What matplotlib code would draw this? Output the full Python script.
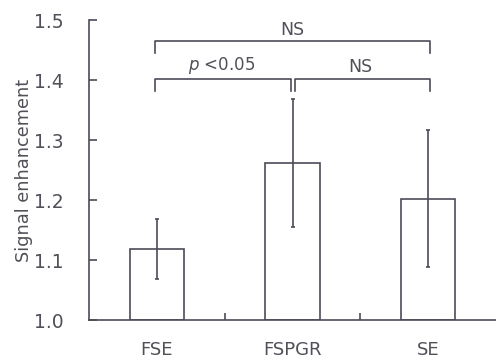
import matplotlib
matplotlib.use("Agg")
import matplotlib.pyplot as plt

categories = ["FSE", "FSPGR", "SE"]
means = [1.118, 1.262, 1.202]
errors = [0.050, 0.107, 0.114]

# significance annotations: (left index, right index, level, label)
brackets = [(0, 2, 1.465, "NS"), (0, 1, 1.402, "p<0.05"), (1, 2, 1.402, "NS")]

dark = "#4b4b57"
txt = "#505058"

fig = plt.figure(figsize=(4.96, 3.59), dpi=100)
ax = fig.add_axes([89/496, 1-320/359, 1-89/496, 300/359])

x = list(range(len(categories)))
ax.bar(x, [m - 1.0 for m in means], bottom=1.0, width=0.4, facecolor="white",
       edgecolor=dark, linewidth=1.2, zorder=2)
ax.errorbar(x, means, yerr=errors, fmt="none", ecolor=dark, elinewidth=1.2,
            capsize=1.5, capthick=1.2, zorder=3)

ax.set_xlim(-0.5, 2.5)
ax.set_ylim(1.0, 1.5)
ax.set_yticks([1.0, 1.1, 1.2, 1.3, 1.4, 1.5])
ax.set_yticklabels(["1.0", "1.1", "1.2", "1.3", "1.4", "1.5"])
ax.set_xticks(x)
ax.set_xticklabels(categories)
ax.set_xticks([0.5, 1.5], minor=True)
ax.tick_params(axis="x", which="major", length=0, pad=15, labelsize=13, colors=txt)
ax.tick_params(axis="x", which="minor", direction="in", length=5, width=1.2, color=dark)
ax.tick_params(axis="y", direction="in", length=6, width=1.2, pad=18, labelsize=13.5,
               colors=txt, color=dark)
for s in ["top", "right"]:
    ax.spines[s].set_visible(False)
for s in ["left", "bottom"]:
    ax.spines[s].set_color(dark)
    ax.spines[s].set_linewidth(1.2)

ax.set_ylabel("Signal enhancement", fontsize=12.8, color=txt, labelpad=1)

drop = 0.02
for (i, j, lvl, lab) in brackets:
    xi = i - 0.01
    xj = j + 0.01
    if (i, j) == (0, 1):
        xj = j - 0.01
    if (i, j) == (1, 2):
        xi = i + 0.02
    ax.plot([xi, xi, xj, xj], [lvl - drop, lvl, lvl, lvl - drop], color=dark,
            lw=1.2, clip_on=False)
    xm = (i + j) / 2
    if lab == "p<0.05":
        ax.text(xm - 0.02, lvl + 0.004, r"$p$ <0.05", ha="center", va="bottom",
                fontsize=12, color=txt)
    else:
        ax.text(xm, lvl + 0.004, lab, ha="center", va="bottom", fontsize=12.5,
                color=txt)

fig.savefig("out.png", dpi=100)
